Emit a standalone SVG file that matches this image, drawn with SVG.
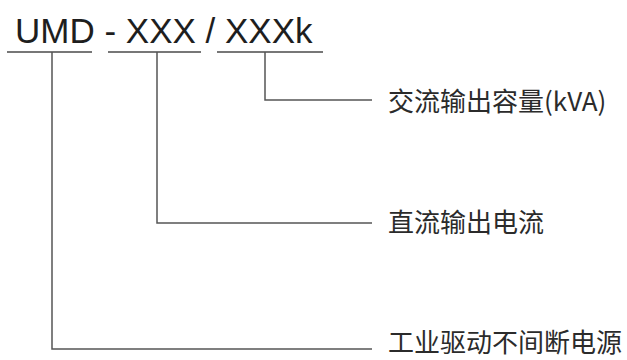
<svg xmlns="http://www.w3.org/2000/svg" width="627" height="360" viewBox="0 0 627 360">
  <style>
    .code { font-family: "Liberation Sans", Arial, sans-serif; font-size: 35px; fill: #1e1e1e; }
    .label { font-family: "Noto Sans CJK SC", "Noto Sans", sans-serif; font-size: 26px; fill: #2b2b2b; }
    .ul { stroke: #4a4a4a; stroke-width: 1.6; fill: none; }
    .conn { stroke: #555555; stroke-width: 1.5; fill: none; }
  </style>
  <rect width="627" height="360" fill="#ffffff"/>
  <g id="model-code">
    <text class="code" x="15" y="43">UMD - XXX / XXXk</text>
    <line class="ul" x1="7" y1="52" x2="92" y2="52"/>
    <line class="ul" x1="108" y1="52" x2="201" y2="52"/>
    <line class="ul" x1="217" y1="52" x2="323" y2="52"/>
  </g>
  <g id="connectors">
    <polyline class="conn" points="265,52 265,100 372,100"/>
    <polyline class="conn" points="157,52 157,223 372,223"/>
    <polyline class="conn" points="52,52 52,349 372,349"/>
  </g>
  <g id="label-ac">
    <text class="label" x="388" y="111">交流输出容量(kVA)</text>
  </g>
  <g id="label-dc">
    <text class="label" x="388" y="232">直流输出电流</text>
  </g>
  <g id="label-ups">
    <text class="label" x="388" y="352">工业驱动不间断电源</text>
  </g>
</svg>
